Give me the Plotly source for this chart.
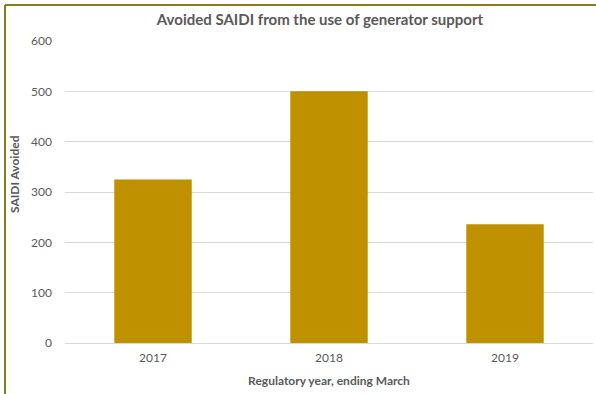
import plotly.graph_objects as go

years = ["2017", "2018", "2019"]
saidi_avoided = [325, 500, 236]
y_ticks = [0, 100, 200, 300, 400, 500, 600]

W, H = 596, 394
ml, mr, mt, mb = 65, 3, 41, 51
pw, ph = W - ml - mr, H - mt - mb

def px_x(p):
    return (p - ml) / pw

def px_y(p):
    return 1 + (mt - p) / ph

font_family = "Lato, Open Sans, sans-serif"
grey = "#595959"
border = "#8C7A1A"

fig = go.Figure(go.Bar(
    x=years, y=saidi_avoided,
    marker=dict(color="#BF9000", line=dict(width=0)),
))

fig.update_layout(
    width=W, height=H,
    margin=dict(l=ml, r=mr, t=mt, b=mb),
    paper_bgcolor="white", plot_bgcolor="white",
    bargap=0.56,
    showlegend=False,
    font=dict(family=font_family, color=grey, size=12),
    title=dict(
        text="<b>Avoided SAIDI from the use of generator support</b>",
        x=320 / W, xref="container", xanchor="center",
        y=1 - 20 / H, yref="container", yanchor="middle",
        font=dict(size=15, color=grey, family=font_family),
    ),
    xaxis=dict(
        showgrid=False, zeroline=False, showline=False,
        ticks="", ticklabelstandoff=6, tickfont=dict(size=12, color=grey),
        title=dict(text="<b>Regulatory year, ending March</b>",
                   font=dict(size=12, color=grey), standoff=12),
    ),
    yaxis=dict(
        range=[0, 600], tickvals=y_ticks,
        showgrid=True, gridcolor="#D9D9D9", gridwidth=1,
        zeroline=True, zerolinecolor="#D9D9D9", zerolinewidth=1,
        showline=False, ticks="", ticklabelstandoff=12,
        tickfont=dict(size=12, color=grey),
    ),
    annotations=[
        dict(text="<b>SAIDI Avoided</b>", textangle=-90,
             xref="paper", yref="paper", x=px_x(15), y=px_y(174),
             xanchor="center", yanchor="middle", showarrow=False,
             font=dict(size=12, color=grey, family=font_family)),
    ],
    shapes=[
        dict(type="line", xref="paper", yref="paper",
             x0=px_x(5), x1=px_x(W + 5), y0=px_y(5), y1=px_y(5),
             line=dict(color=border, width=2)),
        dict(type="line", xref="paper", yref="paper",
             x0=px_x(5), x1=px_x(5), y0=px_y(5), y1=px_y(H + 5),
             line=dict(color=border, width=2)),
    ],
)

fig.write_html("out.html")
